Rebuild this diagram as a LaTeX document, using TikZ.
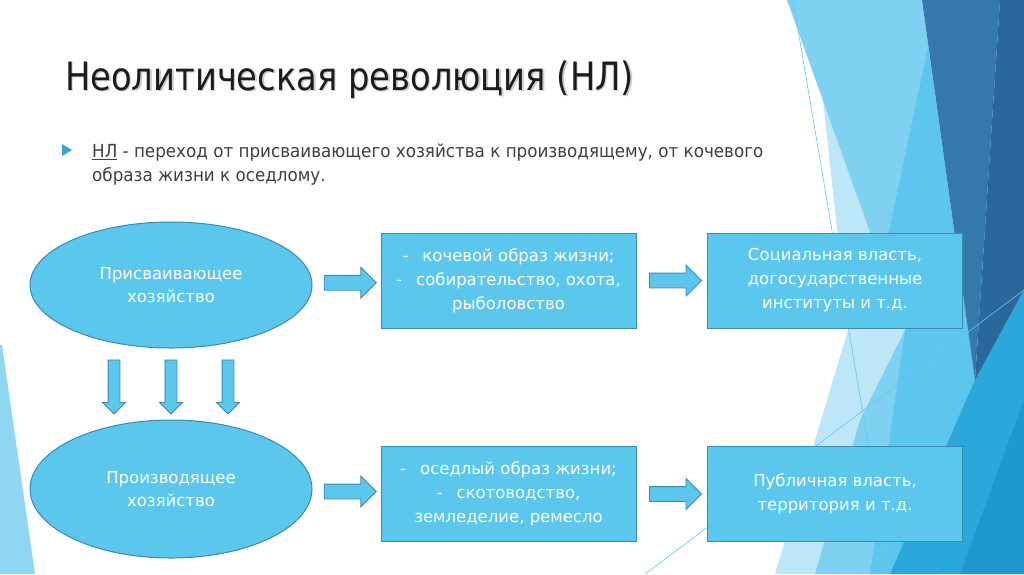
\documentclass[tikz,border=0pt]{standalone}
\usepackage{fontspec}
\setmainfont{DejaVu Sans}
\newfontfamily\slidefont[FakeStretch=0.93]{DejaVu Sans}
\newfontfamily\headfont[FakeStretch=0.865]{DejaVu Sans}
\usepackage{xcolor}
\usepackage{tikz}
\usetikzlibrary{shapes.geometric,shapes.arrows,calc,positioning}
\definecolor{facetfill}{HTML}{5BC7EC}
\definecolor{facetline}{HTML}{3F88AE}
\definecolor{facetpale}{HTML}{BDE6F7}
\definecolor{facetlight}{HTML}{7ED1F0}
\definecolor{facetmid}{HTML}{5CC6EC}
\definecolor{facetbright}{HTML}{2AA8DC}
\definecolor{facetdeep}{HTML}{1F98D0}
\definecolor{facetnavy}{HTML}{3479A9}
\definecolor{facetnavydark}{HTML}{2A679A}
\definecolor{facetrule}{HTML}{6CC6EC}
\definecolor{cornerblue}{HTML}{8ED6F2}
\definecolor{titleink}{HTML}{1C1C1C}
\definecolor{bodyink}{HTML}{3F3F3F}
\definecolor{bulletblue}{HTML}{3BA3D9}
\tikzset{
  oval/.style={ellipse, draw=facetline, fill=facetfill, line width=1pt,
               minimum width=282pt, text=white, align=center,
               font=\fontsize{16.5}{23.5}\selectfont},
  card/.style={rectangle, draw=facetline, fill=facetfill, line width=1pt,
               minimum width=255pt, minimum height=95pt, text=white, align=center,
               font=\fontsize{16.5}{24}\selectfont},
  harrow/.style={single arrow, draw=facetline, fill=facetfill, line width=0.8pt,
                 minimum height=52pt, minimum width=30pt, inner xsep=0pt, inner ysep=7pt,
                 single arrow head extend=8pt},
  varrow/.style={harrow, minimum height=54pt, minimum width=22pt, inner ysep=5.5pt,
                 single arrow head extend=5.5pt, rotate=-90},
}

\begin{document}
\begin{tikzpicture}[x=1pt,y=-1pt]
  \useasboundingbox (0,0) rectangle (1024,574);
  \fill[white] (0,0) rectangle (1024,574);

  % facets of the slide theme
  \fill[facetpale] (823,100) -- (940,330) -- (880,574) -- (775,574) -- (848,330) -- cycle;
  \fill[facetlight] (787,0) -- (922,0) -- (975,380) -- (880,574) -- (815,574)
                    -- (860,420) -- (905,330) -- cycle;
  \fill[facetmid] (928,47) -- (885,250) -- (905,330) -- (870,574) -- (940,574) -- (975,380) -- cycle;
  \fill[facetbright] (975,380) -- (1024,290) -- (1024,574) -- (890,574) -- cycle;
  \fill[facetdeep] (1024,400) -- (1024,574) -- (960,574) -- cycle;
  \fill[facetnavy] (922,0) -- (1000,0) -- (975,380) -- cycle;
  \fill[facetnavydark] (1000,0) -- (1024,0) -- (1024,290) -- (975,380) -- cycle;
  \draw[facetrule, line width=0.6pt] (793,0) -- (890,574);
  \draw[facetrule, line width=0.6pt] (645,574) -- (1024,290);
  \fill[cornerblue] (0,345) -- (2,345) -- (35,574) -- (0,574) -- cycle;

  % heading and definition
  \node[anchor=base west, inner sep=0pt, text=black!20,
        font=\headfont\fontsize{39}{42}\selectfont] (titleshade) at (66.5,91.5)
        {Неолитическая революция (НЛ)};
  \node[anchor=base west, inner sep=0pt, text=titleink,
        font=\headfont\fontsize{39}{42}\selectfont] (title) at (65,90)
        {Неолитическая революция (НЛ)};
  \fill[bulletblue] (62,144) -- (72,150) -- (62,156) -- cycle;
  \node[anchor=north west, inner sep=0pt, align=left, text=bodyink,
        font=\slidefont\fontsize{18}{24}\selectfont] (definition) at (92,144)
        {\underline{НЛ} - переход от присваивающего хозяйства к производящему, от кочевого\\
         образа жизни к оседлому.};

  % diagram
  \node[oval, minimum height=126pt] (gather) at (171,285) {Присваивающее\\хозяйство};
  \node[oval, minimum height=138pt] (produce) at (171,489) {Производящее\\хозяйство};
  \node[card] (nomad) at (508.5,280.5)
    {-\hspace{14pt}кочевой образ жизни;\\-\hspace{14pt}собирательство, охота,\\рыболовство};
  \node[card] (social) at (835,280.5)
    {Социальная власть,\\догосударственные\\институты и т.д.};
  \node[card] (settled) at (508.5,494)
    {-\hspace{14pt}оседлый образ жизни;\\-\hspace{14pt}скотоводство,\\земледелие, ремесло};
  \node[card] (public) at (835,494)
    {Публичная власть,\\территория и т.д.};

  \node[harrow] (toNomad) at ($(gather.east)!0.5!(nomad.west)$) {};
  \node[harrow] (toSocial) at ($(nomad.east)!0.5!(social.west)$) {};
  \node[harrow] (toSettled) at ($(produce.east)!0.5!(settled.west)$) {};
  \node[harrow] (toPublic) at ($(settled.east)!0.5!(public.west)$) {};

  \coordinate (gap) at ($(gather.south)!0.5!(produce.north)$);
  \foreach \dx [count=\i] in {-57,0,57}
    \node[varrow] (down\i) at ($(gap)+(\dx,0)$) {};
\end{tikzpicture}
\end{document}
